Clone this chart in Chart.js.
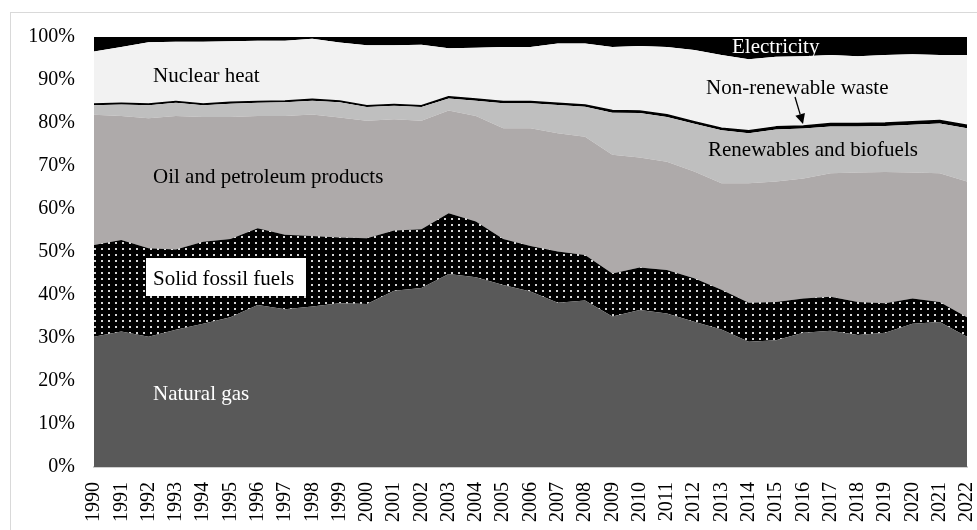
<!DOCTYPE html>
<html>
<head>
<meta charset="utf-8">
<script src="https://cdn.jsdelivr.net/npm/chart.js@4"></script>
<style>
  html, body { margin: 0; padding: 0; background: #fff; }
  #wrap { position: relative; width: 977px; height: 530px; }
  #frame { position: absolute; left: 10px; top: 12px; width: 980px; height: 530px;
           border-left: 1px solid #d9d9d9; border-top: 1px solid #d9d9d9; }
  canvas { position: absolute; left: 0; top: 0; }
</style>
</head>
<body>
<div id="wrap"><div id="frame"></div><canvas id="c" width="977" height="530"></canvas></div>
<script>
const years = ["1990","1991","1992","1993","1994","1995","1996","1997","1998","1999","2000","2001","2002","2003","2004","2005","2006","2007","2008","2009","2010","2011","2012","2013","2014","2015","2016","2017","2018","2019","2020","2021","2022"];
const naturalGas   = [30.3,31.5,30.3,31.9,33.3,34.8,37.7,36.7,37.3,38.1,37.9,41.0,41.6,44.9,44.1,42.3,40.8,38.2,38.7,35.0,36.5,35.7,33.8,32.0,29.1,29.5,31.2,31.7,30.7,31.2,33.3,33.7,30.3];
const solidFossil  = [21.3,21.3,20.6,18.7,19.1,18.2,17.8,17.3,16.4,15.3,15.3,14.0,13.7,14.1,13.0,10.7,10.6,11.9,10.6,10.0,9.9,10.1,10.1,9.2,9.1,8.9,8.0,7.9,7.7,6.9,5.9,4.7,4.5];
const oilProducts  = [30.3,28.8,30.2,31.0,29.0,28.4,26.1,27.6,28.3,27.9,27.3,25.9,25.2,23.9,24.5,25.8,27.4,27.5,27.5,27.6,25.6,25.2,24.8,24.8,27.8,28.0,27.9,28.7,30.1,30.5,29.3,29.9,31.6];
const renewables   = [2.2,2.7,3.0,3.1,2.7,3.1,3.1,3.2,3.2,3.5,3.2,3.1,3.2,2.8,3.6,5.8,5.8,6.6,7.0,9.8,10.3,10.4,11.1,12.3,11.6,12.1,11.6,10.9,10.7,10.7,11.1,11.6,12.4];
const nonRenWaste  = [0.3,0.3,0.3,0.3,0.3,0.3,0.3,0.3,0.3,0.3,0.3,0.3,0.3,0.4,0.4,0.4,0.4,0.4,0.4,0.5,0.5,0.5,0.5,0.5,0.6,0.6,0.6,0.7,0.7,0.7,0.7,0.7,0.7];
const nuclearHeat  = [12.2,13.1,14.4,13.9,14.5,14.2,14.1,14.0,14.1,13.6,14.1,13.8,14.2,11.3,11.9,12.7,12.7,13.9,14.3,14.8,15.1,15.8,16.7,17.0,16.6,16.3,16.2,15.9,15.6,15.8,15.7,15.2,16.3];
const electricity  = [3.4,2.3,1.2,1.1,1.1,1.0,0.9,0.9,0.4,1.3,1.9,1.9,1.8,2.6,2.5,2.3,2.3,1.5,1.5,2.3,2.1,2.3,3.0,4.2,5.2,4.6,4.5,4.2,4.5,4.2,4.0,4.2,4.2];
const yTicks = [0,10,20,30,40,50,60,70,80,90,100];

// dotted pattern for solid fossil fuels
const pc = document.createElement('canvas');
pc.width = 7; pc.height = 6;
const pctx = pc.getContext('2d');
pctx.fillStyle = '#000'; pctx.fillRect(0,0,7,6);
pctx.fillStyle = '#d6d6d6'; pctx.fillRect(3,2,2,2);
const dotPattern = pctx.createPattern(pc, 'repeat');

const serif = "'Liberation Serif', 'Times New Roman', serif";

function ds(label, data, color, fill, extra) {
  return Object.assign({ label, data, backgroundColor: color, borderColor: color, borderWidth: 0,
    fill, pointRadius: 0, tension: 0 }, extra || {});
}

const labelsPlugin = {
  id: 'areaLabels',
  afterDraw(chart) {
    const ctx = chart.ctx;
    ctx.save();
    ctx.font = "21px " + serif;
    ctx.textBaseline = 'alphabetic';
    ctx.textAlign = 'left';
    ctx.fillStyle = '#fff';
    ctx.fillRect(146, 258, 160, 38);
    ctx.fillStyle = '#000';
    ctx.fillText('Nuclear heat', 153, 82);
    ctx.fillText('Oil and petroleum products', 153, 183);
    ctx.fillText('Solid fossil fuels', 153, 285);
    ctx.fillText('Non-renewable waste', 706, 94);
    ctx.fillText('Renewables and biofuels', 708, 156);
    ctx.fillStyle = '#fff';
    ctx.fillText('Natural gas', 153, 400);
    ctx.fillText('Electricity', 732, 53);
    // arrow
    ctx.strokeStyle = '#000'; ctx.fillStyle = '#000'; ctx.lineWidth = 1.3;
    const x1 = 795, y1 = 97, x2 = 803, y2 = 124;
    const ang = Math.atan2(y2 - y1, x2 - x1);
    const hl = 10, hw = 5;
    const bx = x2 - hl * Math.cos(ang), by = y2 - hl * Math.sin(ang);
    ctx.beginPath(); ctx.moveTo(x1, y1); ctx.lineTo(bx, by); ctx.stroke();
    ctx.beginPath();
    ctx.moveTo(x2, y2);
    ctx.lineTo(bx + hw * Math.sin(ang), by - hw * Math.cos(ang));
    ctx.lineTo(bx - hw * Math.sin(ang), by + hw * Math.cos(ang));
    ctx.closePath(); ctx.fill();
    ctx.restore();
  }
};

new Chart(document.getElementById('c'), {
  type: 'line',
  data: {
    labels: years,
    datasets: [
      ds('Natural gas', naturalGas, '#595959', 'origin'),
      ds('Solid fossil fuels', solidFossil, dotPattern, '-1'),
      ds('Oil and petroleum products', oilProducts, '#aeaaaa', '-1'),
      ds('Renewables and biofuels', renewables, '#bfbfbf', '-1'),
      ds('Non-renewable waste', nonRenWaste, '#000', '-1', { borderWidth: 1.5, borderColor: '#000' }),
      ds('Nuclear heat', nuclearHeat, '#f2f2f2', '-1'),
      ds('Electricity', electricity, '#000', '-1')
    ]
  },
  options: {
    responsive: false,
    animation: false,
    layout: { padding: { left: 0, top: 37, right: 10, bottom: 0 } },
    plugins: { legend: { display: false }, tooltip: { enabled: false } },
    elements: { line: { borderJoinStyle: 'round' } },
    scales: {
      x: {
        offset: false,
        grid: { display: false, drawTicks: false },
        border: { display: true, color: '#d0d0d0', width: 2 },
        ticks: { color: '#000', font: { family: serif, size: 20 }, minRotation: 90, maxRotation: 90, padding: 15, autoSkip: false },
        afterFit(s) { s.height = 63; s.paddingLeft = 0; s.paddingRight = 0; }
      },
      y: {
        stacked: true,
        min: 0, max: 100,
        grid: { display: false, drawTicks: false },
        border: { display: false },
        afterBuildTicks(s) { s.ticks = yTicks.map(v => ({ value: v })); },
        ticks: { color: '#000', font: { family: serif, size: 20 }, padding: 19, callback: v => v + '%' },
        afterFit(s) { s.width = 94; s.paddingTop = 0; s.paddingBottom = 0; }
      }
    }
  },
  plugins: [labelsPlugin]
});
</script>
</body>
</html>
